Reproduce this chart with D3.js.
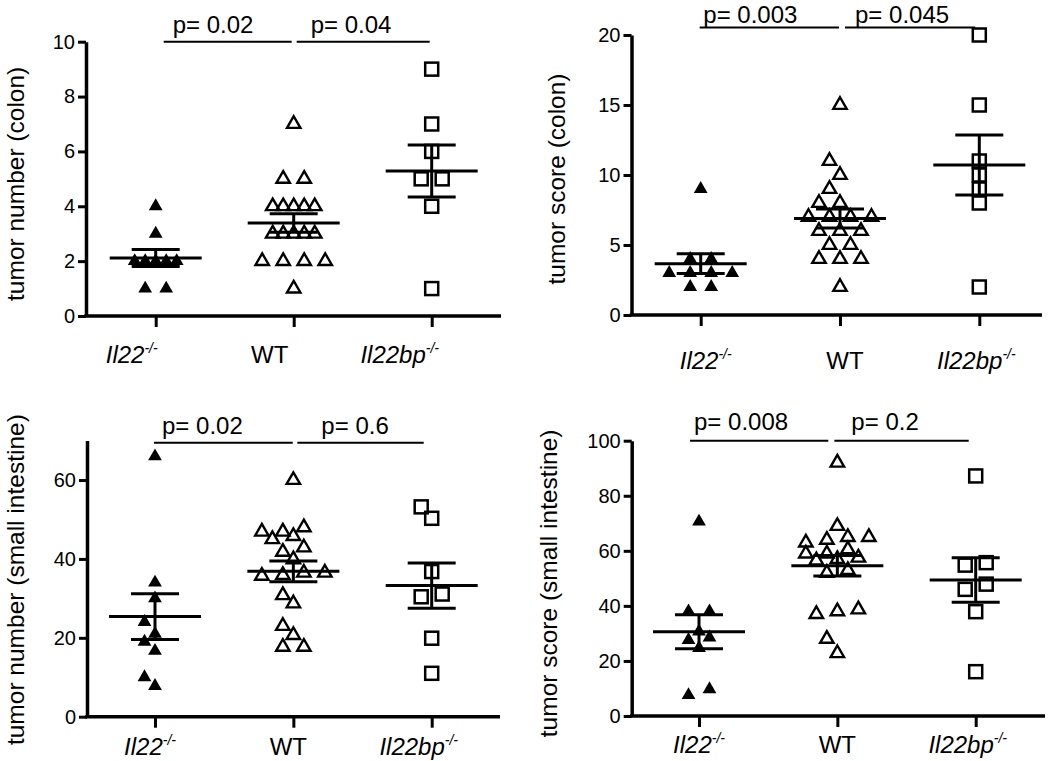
<!DOCTYPE html>
<html><head><meta charset="utf-8">
<script src="https://cdn.jsdelivr.net/npm/d3@7"></script>
<style>
body{margin:0;background:#fff}
text{font-family:"Liberation Sans",Arial,Helvetica,sans-serif;fill:#000}
</style>
</head><body>
<svg id="c" width="1050" height="761"></svg>
<script>
// ---------- DATA ----------
const groups = ["Il22", "WT", "Il22bp"];
const groupLabels = [["Il22", "-/-", true], ["WT", "", false], ["Il22bp", "-/-", true]];

// tumor number (colon)
const colonNumIl22   = [4, 3, 2, 2, 2, 2, 2, 1, 1];
const colonNumWT     = [7, 5, 5, 4, 4, 4, 4, 4, 3, 3, 3, 3, 3, 2, 2, 2, 2, 1];
const colonNumIl22bp = [9, 7, 6, 5, 5, 4, 1];
// tumor score (colon)
const colonScoreIl22   = [9, 4, 4, 3, 3, 3, 3, 2, 2];
const colonScoreWT     = [15, 11, 10, 9, 8, 8, 7, 7, 7, 7, 6, 6, 6, 5, 5, 4, 4, 4, 2];
const colonScoreIl22bp = [20, 15, 11, 10, 9, 8, 2];
// tumor number (small intestine)
const siNumIl22   = [66, 34, 30, 24, 21, 19, 16.7, 10, 7.8];
const siNumWT     = [60, 48, 46.9, 46.9, 45.8, 45, 42.9, 41.8, 39.9, 36.5, 36.5, 35.9, 35.7, 30.8, 28.7, 23, 20.7, 17.7, 17.7];
const siNumIl22bp = [53.2, 50.3, 36.8, 31.1, 30.4, 19.9, 11];
// tumor score (small intestine)
const siScoreIl22   = [70.6, 38, 38, 30.7, 28.5, 27.6, 24.7, 9.7, 7.6];
const siScoreWT     = [92, 69, 65, 65, 64, 63, 60.5, 59, 59, 57.5, 57, 56.5, 53, 52, 38.7, 38, 37, 28, 22.8];
const siScoreIl22bp = [87.2, 55.7, 54.8, 47.9, 46, 37.9, 16.1];

const yTitles = ["tumor number (colon)", "tumor score (colon)", "tumor number (small intestine)", "tumor score (small intestine)"];
const yTicks = [[0, 2, 4, 6, 8, 10], [0, 5, 10, 15, 20], [0, 20, 40, 60], [0, 20, 40, 60, 80, 100]];
const yMax = [10, 20, 70, 100];
const pValues = [["p= 0.02", "p= 0.04"], ["p= 0.003", "p= 0.045"], ["p= 0.02", "p= 0.6"], ["p= 0.008", "p= 0.2"]];
const panelData = [
  [colonNumIl22, colonNumWT, colonNumIl22bp],
  [colonScoreIl22, colonScoreWT, colonScoreIl22bp],
  [siNumIl22, siNumWT, siNumIl22bp],
  [siScoreIl22, siScoreWT, siScoreIl22bp]
];

// ---------- LAYOUT ----------
const layout = [
  {ax: 86,    y0: 316,   yTop: 41.7,  c1: 155.7, c3: 431.7, xEnd: 501,  labDy: 47, labDx: -24, titleX: 23.5, titleDy: 5,
   pY: 41.7,  pBase: 33.3, pLines: [[8, -2], [3, -2]],  pText: [17, 17]},
  {ax: 631.5, y0: 315,   yTop: 35,    c1: 700.7, c3: 979.3, xEnd: 1042, labDy: 54, labDx: 5,   titleX: 565, titleDy: 4,
   pY: 27.5,  pBase: 22.5, pLines: [[-1, -1], [5, -4]], pText: [2.6, 15]},
  {ax: 87,    y0: 716.7, yTop: 440.6, c1: 155,   c3: 431.7, xEnd: 500,  labDy: 38, labDx: -5,  titleX: 23.5, titleDy: 1,
   pY: 442.7, pBase: 434, pLines: [[-1, -0.6], [4, -8]], pText: [7, 28]},
  {ax: 631.7, y0: 716,   yTop: 440.7, c1: 699,   c3: 975.7, xEnd: 1045, labDy: 37, labDx: 0,   titleX: 557, titleDy: 5,
   pY: 440.7, pBase: 430, pLines: [[-9, -9], [-3, -7]], pText: [-5, 14]}
];
const shapes = ["filled", "hollow", "square"];
const U = 10.5;

const svg = d3.select("#c");

// beeswarm on a half-spacing grid, elliptical marker footprint
function swarm(values, y, shape) {
  const A = 12, B = shape === "hollow" ? 15 : 12.5;
  const pts = values.map(v => ({v, py: y(v)})).sort((a, b) => a.v - b.v);
  const rows = [];
  pts.forEach(p => {
    const last = rows[rows.length - 1];
    if (last && Math.abs(last[0].py - p.py) < 6) last.push(p); else rows.push([p]);
  });
  const placed = [];
  const order = [0, -1, 1, -2, 2, -3, 3];
  rows.forEach(row => {
    const n = row.length;
    const s = n <= 4 ? 2 : 1;
    const base = row.map((p, i) => (i - (n - 1) / 2) * s);
    const lim = Math.max(3, d3.max(base, b => Math.abs(b)));
    let best = base, bestScore = Infinity;
    for (const sh of order) {
      const ks = base.map(b => b + sh);
      if (d3.max(ks, k => Math.abs(k)) > lim) continue;
      let overlap = 0;
      ks.forEach((k, i) => placed.forEach(q => {
        const e = Math.pow((k - q.k) * U / A, 2) + Math.pow((row[i].py - q.py) / B, 2);
        if (e < 1) overlap += 1 - Math.sqrt(e);
      }));
      if (overlap < bestScore - 1e-9) { bestScore = overlap; best = ks; }
      if (overlap === 0) break;
    }
    row.forEach((p, i) => { p.k = best[i]; placed.push(p); });
  });
  return placed;
}

layout.forEach((L, pi) => {
  const y = d3.scaleLinear().domain([0, yMax[pi]]).range([L.y0, L.yTop]);
  const x = d3.scalePoint().domain(groups).range([L.c1, L.c3]);
  const g = svg.append("g");

  // y axis
  const ya = g.append("g").attr("transform", `translate(${L.ax},0)`)
    .call(d3.axisLeft(y).tickValues(yTicks[pi]).tickSize(8).tickSizeOuter(0).tickPadding(3).tickFormat(d3.format("d")));
  ya.select(".domain").attr("stroke-width", 3.5).attr("stroke", "#000");
  ya.selectAll(".tick line").attr("stroke-width", 3).attr("stroke", "#000");
  ya.selectAll(".tick text").style("font-size", "20px").attr("font-family", null);

  // x axis
  g.append("line").attr("x1", L.ax - 1.75).attr("x2", L.xEnd).attr("y1", L.y0).attr("y2", L.y0)
    .attr("stroke", "#000").attr("stroke-width", 3.5);
  const xa = g.append("g").attr("transform", `translate(0,${L.y0})`)
    .call(d3.axisBottom(x).tickSize(11).tickSizeOuter(0).tickFormat(""));
  xa.select(".domain").remove();
  xa.selectAll(".tick line").attr("stroke-width", 3).attr("stroke", "#000");

  // category labels
  groups.forEach((gname, gi) => {
    const [main, sup, ital] = groupLabels[gi];
    const extra = gname === "Il22bp" ? -8 : 0;
    const t = g.append("text").attr("x", x(gname) + L.labDx + extra).attr("y", L.y0 + L.labDy)
      .attr("text-anchor", "middle").style("font-size", "24px");
    t.append("tspan").text(main).style("font-style", ital ? "italic" : "normal");
    if (sup) t.append("tspan").text(sup).attr("dy", -10).style("font-size", "14px").style("font-style", "italic");
  });

  // y title
  g.append("text")
    .attr("transform", `translate(${L.titleX},${(L.y0 + L.yTop) / 2 + L.titleDy}) rotate(-90)`)
    .attr("text-anchor", "middle").style("font-size", "24.5px").text(yTitles[pi]);

  // points + mean/SEM
  panelData[pi].forEach((vals, gi) => {
    const shape = shapes[gi];
    const cx = x(groups[gi]);
    const pts = swarm(vals, y, shape);
    const pg = g.append("g");
    pts.forEach(p => {
      const px = cx + p.k * U;
      if (shape === "square") {
        pg.append("rect").attr("x", px - 6.5).attr("y", p.py - 6.5).attr("width", 13).attr("height", 13)
          .attr("fill", "none").attr("stroke", "#000").attr("stroke-width", 2.5);
      } else {
        pg.append("path").attr("d", d3.symbol(d3.symbolTriangle, shape === "filled" ? 82 : 78)())
          .attr("transform", `translate(${px},${p.py})`)
          .attr("fill", shape === "filled" ? "#000" : "none")
          .attr("stroke", shape === "filled" ? "none" : "#000")
          .attr("stroke-width", 2.4).attr("stroke-linejoin", "miter");
      }
    });
    const m = d3.mean(vals);
    const sem = d3.deviation(vals) / Math.sqrt(vals.length);
    const lg = g.append("g").attr("stroke", "#000").attr("stroke-width", 3);
    lg.append("line").attr("x1", cx - 46).attr("x2", cx + 46).attr("y1", y(m)).attr("y2", y(m));
    lg.append("line").attr("x1", cx).attr("x2", cx).attr("y1", y(m - sem)).attr("y2", y(m + sem));
    lg.append("line").attr("x1", cx - 24).attr("x2", cx + 24).attr("y1", y(m + sem)).attr("y2", y(m + sem));
    lg.append("line").attr("x1", cx - 24).attr("x2", cx + 24).attr("y1", y(m - sem)).attr("y2", y(m - sem));
  });

  // p-value brackets
  [[0, 1], [1, 2]].forEach(([a, b], k) => {
    const xa0 = x(groups[a]) + L.pLines[k][0];
    const xb0 = x(groups[b]) + L.pLines[k][1];
    g.append("line").attr("x1", xa0).attr("x2", xb0).attr("y1", L.pY).attr("y2", L.pY)
      .attr("stroke", "#000").attr("stroke-width", 2);
    g.append("text").attr("x", x(groups[a]) + L.pText[k]).attr("y", L.pBase)
      .style("font-size", "24px").text(pValues[pi][k]);
  });
});
</script>
</body></html>
